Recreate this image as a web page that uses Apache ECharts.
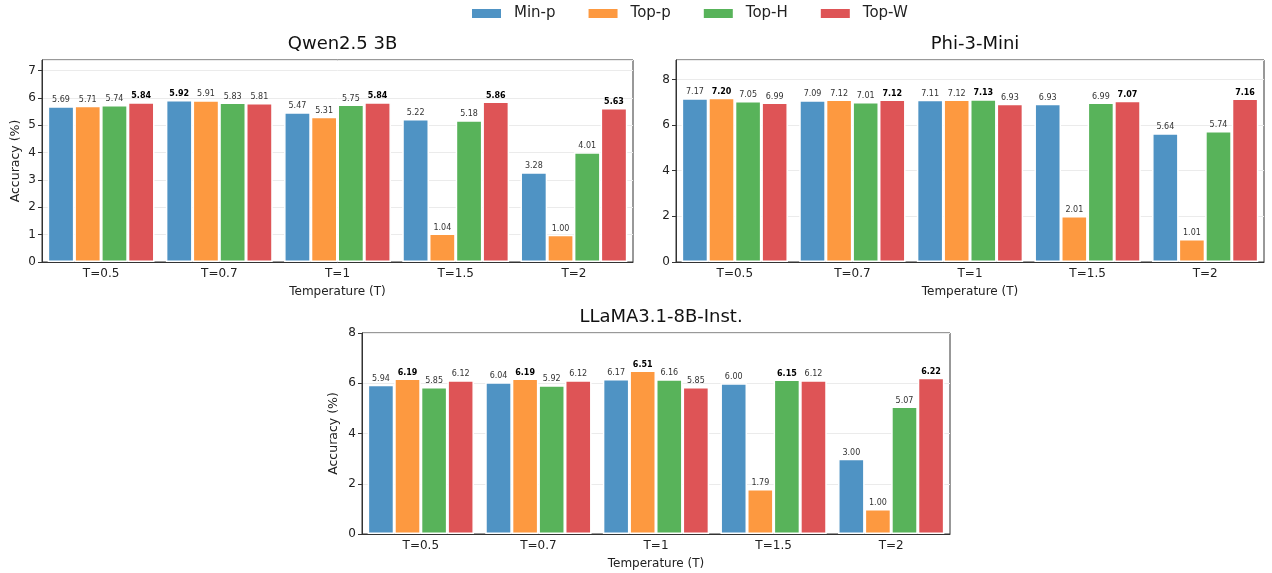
<!DOCTYPE html>
<html>
<head>
<meta charset="utf-8">
<script src="https://cdn.jsdelivr.net/npm/echarts@6/dist/echarts.min.js"></script>
<style>
  html, body { margin: 0; padding: 0; background: #fff; }
  #chart { width: 1272px; height: 573px; }
</style>
</head>
<body>
<div id="chart"></div>
<script>
// temperatures on the x axis, samplers in the legend
const temps = ['T=0.5', 'T=0.7', 'T=1', 'T=1.5', 'T=2'];
const methods = ['Min-p', 'Top-p', 'Top-H', 'Top-W'];
const colors = ['#4f93c4', '#fd9940', '#58b35a', '#de5456'];

// accuracy (%) per method, one value per temperature
const qwenMinP = [5.69, 5.92, 5.47, 5.22, 3.28];
const qwenTopP = [5.71, 5.91, 5.31, 1.04, 1.00];
const qwenTopH = [5.74, 5.83, 5.75, 5.18, 4.01];
const qwenTopW = [5.84, 5.81, 5.84, 5.86, 5.63];

const phiMinP = [7.17, 7.09, 7.11, 6.93, 5.64];
const phiTopP = [7.20, 7.12, 7.12, 2.01, 1.01];
const phiTopH = [7.05, 7.01, 7.13, 6.99, 5.74];
const phiTopW = [6.99, 7.12, 6.93, 7.07, 7.16];

const llamaMinP = [5.94, 6.04, 6.17, 6.00, 3.00];
const llamaTopP = [6.19, 6.19, 6.51, 1.79, 1.00];
const llamaTopH = [5.85, 5.92, 6.16, 6.15, 5.07];
const llamaTopW = [6.12, 6.12, 5.85, 6.12, 6.22];

const panels = [
  { title: 'Qwen2.5 3B', data: [qwenMinP, qwenTopP, qwenTopH, qwenTopW], ymax: 7.38, step: 1,
    yName: 'Accuracy (%)', yGap: 20, box: { left: 42, top: 60, width: 591, height: 202 } },
  { title: 'Phi-3-Mini', data: [phiMinP, phiTopP, phiTopH, phiTopW], ymax: 8.85, step: 2,
    yName: '', yGap: 20, box: { left: 676, top: 60, width: 588, height: 202 } },
  { title: 'LLaMA3.1-8B-Inst.', data: [llamaMinP, llamaTopP, llamaTopH, llamaTopW], ymax: 8, step: 2,
    yName: 'Accuracy (%)', yGap: 22, box: { left: 362, top: 333, width: 588, height: 201 } },
];

const font = 'DejaVu Sans';

// index of the best method for each temperature (last one wins on a tie)
function bestIdx(data, t) {
  let b = 0;
  data.forEach((s, i) => { if (s[t] >= data[b][t]) b = i; });
  return b;
}

const grid = [], xAxis = [], yAxis = [], series = [], title = [];
panels.forEach((p, gi) => {
  grid.push(Object.assign({ show: true, borderColor: '#333', borderWidth: 1, backgroundColor: 'transparent' }, p.box));
  title.push({
    text: p.title,
    left: p.box.left + p.box.width / 2, top: p.box.top - 30, textAlign: 'center',
    textStyle: { fontFamily: font, fontSize: 18, fontWeight: 'normal', color: '#111' }
  });
  xAxis.push({
    type: 'category', gridIndex: gi, data: temps,
    name: 'Temperature (T)', nameLocation: 'middle', nameGap: 24,
    nameTextStyle: { fontFamily: font, fontSize: 12, color: '#222' },
    axisLine: { lineStyle: { color: '#333' } },
    axisTick: { alignWithLabel: true, length: 4, lineStyle: { color: '#333' } },
    axisLabel: { fontFamily: font, fontSize: 12, color: '#222', margin: 6 },
  });
  yAxis.push({
    type: 'value', gridIndex: gi, min: 0, max: p.ymax, interval: p.step,
    name: p.yName, nameLocation: 'middle', nameGap: p.yGap,
    nameTextStyle: { fontFamily: font, fontSize: 12.5, color: '#222' },
    axisLine: { show: true, lineStyle: { color: '#333' } },
    axisTick: { show: true, length: 4, lineStyle: { color: '#333' } },
    axisLabel: { fontFamily: font, fontSize: 12, color: '#222', margin: 6,
                 showMaxLabel: p.ymax % p.step === 0 },
    splitLine: { show: true, lineStyle: { color: '#ebebeb' } },
  });
  p.data.forEach((vals, mi) => {
    series.push({
      type: 'bar', name: methods[mi], xAxisIndex: gi, yAxisIndex: gi,
      barWidth: '22.6%', barGap: '0%',
      itemStyle: { color: colors[mi], borderColor: '#fff', borderWidth: 1.5 },
      data: vals.map((v, t) => {
        const bold = bestIdx(p.data, t) === mi;
        return {
          value: v,
          label: {
            show: true, position: 'top', distance: 2,
            formatter: v.toFixed(2),
            fontFamily: font, fontSize: 8,
            fontWeight: bold ? 'bold' : 'normal',
            color: bold ? '#000' : '#333'
          }
        };
      }),
    });
  });
});

const chart = echarts.init(document.getElementById('chart'));
chart.setOption({
  animation: false,
  color: colors,
  title: title,
  legend: {
    data: methods, top: 1, left: 465,
    itemWidth: 31, itemHeight: 11, itemGap: 31,
    icon: 'rect',
    textStyle: { fontFamily: font, fontSize: 15, color: '#222', padding: [0, 0, 0, 7] },
  },
  grid: grid,
  xAxis: xAxis,
  yAxis: yAxis,
  series: series,
});
</script>
</body>
</html>
